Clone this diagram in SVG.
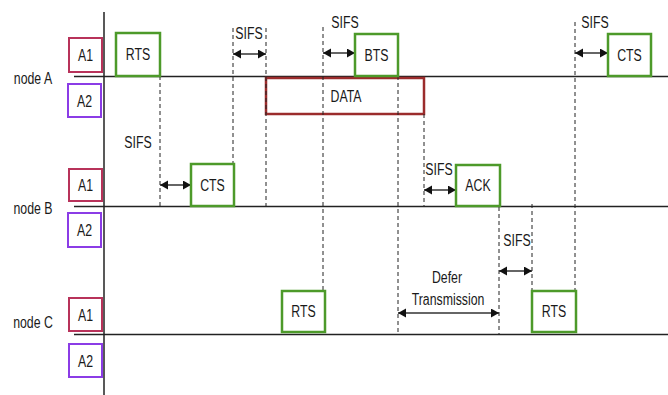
<svg xmlns="http://www.w3.org/2000/svg" width="668" height="395" viewBox="0 0 668 395">
<style>
text{font-family:"Liberation Sans",Arial,sans-serif;font-size:16px;fill:#1a1a1a;text-anchor:middle}
.a1{fill:#fff;stroke:#b8325a;stroke-width:2}
.a2{fill:#fff;stroke:#8b3ce6;stroke-width:2}
.pk{fill:#fff;stroke:#4d9a2a;stroke-width:2.5}
.data{fill:none;stroke:#9b2c2c;stroke-width:2.5}
.tl{stroke:#222;stroke-width:1.5;fill:none}
.dash{stroke:#222;stroke-width:1;stroke-dasharray:4 3;fill:none}
.arr{stroke:#333;stroke-width:1.5;fill:none;marker-start:url(#ah);marker-end:url(#ah)}
</style>
<defs>
<marker id="ah" markerUnits="userSpaceOnUse" markerWidth="10" markerHeight="10" refX="8" refY="4.5" orient="auto-start-reverse">
<path d="M0,0 L8,4.5 L0,9 z" fill="#111"/>
</marker>
</defs>
<rect width="668" height="395" fill="#fff"/>

<g id="axes">
<line class="tl" x1="104" y1="12" x2="104" y2="395"/>
<line class="tl" x1="74" y1="76.5" x2="668" y2="76.5"/>
<line class="tl" x1="74" y1="206.5" x2="668" y2="206.5"/>
<line class="tl" x1="74" y1="334.5" x2="668" y2="334.5"/>
</g>

<g id="data"><rect class="data" x="266" y="78" width="158" height="36"/><text transform="translate(346 102) scale(.77 1)">DATA</text></g>

<g id="connectors">
<line class="dash" x1="160" y1="76" x2="160" y2="207"/>
<line class="dash" x1="233" y1="28" x2="233" y2="164"/>
<line class="dash" x1="266" y1="28" x2="266" y2="207"/>
<line class="dash" x1="323" y1="27" x2="323" y2="291"/>
<line class="dash" x1="398" y1="76" x2="398" y2="335"/>
<line class="dash" x1="424" y1="114" x2="424" y2="207"/>
<line class="dash" x1="499" y1="207" x2="499" y2="335"/>
<line class="dash" x1="532" y1="204" x2="532" y2="291"/>
<line class="dash" x1="575" y1="22" x2="575" y2="291"/>
<line class="arr" x1="233" y1="54" x2="266" y2="54"/>
<line class="arr" x1="323" y1="53" x2="355" y2="53"/>
<line class="arr" x1="575" y1="53" x2="608" y2="53"/>
<line class="arr" x1="160" y1="185" x2="191" y2="185"/>
<line class="arr" x1="424" y1="190" x2="456" y2="190"/>
<line class="arr" x1="499" y1="271" x2="532" y2="271"/>
<line class="arr" x1="398" y1="313" x2="499" y2="313"/>
</g>

<g id="labels">
<text transform="translate(33 84) scale(.77 1)">node A</text>
<text transform="translate(33 214) scale(.77 1)">node B</text>
<text transform="translate(33 328) scale(.77 1)">node C</text>
<text transform="translate(249 39) scale(.77 1)">SIFS</text>
<text transform="translate(345 28) scale(.77 1)">SIFS</text>
<text transform="translate(595 28) scale(.77 1)">SIFS</text>
<text transform="translate(138 148) scale(.77 1)">SIFS</text>
<text transform="translate(439 175) scale(.77 1)">SIFS</text>
<text transform="translate(517 246) scale(.77 1)">SIFS</text>
<text transform="translate(447 283) scale(.77 1)">Defer</text>
<text transform="translate(448 305) scale(.77 1)">Transmission</text>
</g>

<g id="nodeA-A1"><rect class="a1" x="69" y="38" width="33" height="34"/><text transform="translate(85.5 61) scale(.77 1)">A1</text></g>
<g id="nodeA-A2"><rect class="a2" x="68" y="84" width="33" height="33"/><text transform="translate(84.5 107) scale(.77 1)">A2</text></g>
<g id="nodeB-A1"><rect class="a1" x="69" y="169" width="33" height="32"/><text transform="translate(85.5 191) scale(.77 1)">A1</text></g>
<g id="nodeB-A2"><rect class="a2" x="68" y="213" width="33" height="34"/><text transform="translate(84.5 236) scale(.77 1)">A2</text></g>
<g id="nodeC-A1"><rect class="a1" x="69" y="298" width="33" height="33"/><text transform="translate(85.5 321) scale(.77 1)">A1</text></g>
<g id="nodeC-A2"><rect class="a2" x="69" y="344" width="33" height="33"/><text transform="translate(85.5 367) scale(.77 1)">A2</text></g>

<g id="rtsA"><rect class="pk" x="116" y="33" width="44" height="43"/><text transform="translate(138 60) scale(.77 1)">RTS</text></g>
<g id="btsA"><rect class="pk" x="355" y="34" width="43" height="42"/><text transform="translate(376.5 61) scale(.77 1)">BTS</text></g>
<g id="ctsA"><rect class="pk" x="608" y="34" width="43" height="42"/><text transform="translate(629.5 61) scale(.77 1)">CTS</text></g>
<g id="ctsB"><rect class="pk" x="191" y="164" width="43" height="42"/><text transform="translate(212.5 191) scale(.77 1)">CTS</text></g>
<g id="ackB"><rect class="pk" x="456" y="165" width="44" height="41"/><text transform="translate(478 191) scale(.77 1)">ACK</text></g>
<g id="rtsC1"><rect class="pk" x="282" y="291" width="43" height="41"/><text transform="translate(303.5 317) scale(.77 1)">RTS</text></g>
<g id="rtsC2"><rect class="pk" x="532" y="291" width="44" height="41"/><text transform="translate(554 317) scale(.77 1)">RTS</text></g>
</svg>
